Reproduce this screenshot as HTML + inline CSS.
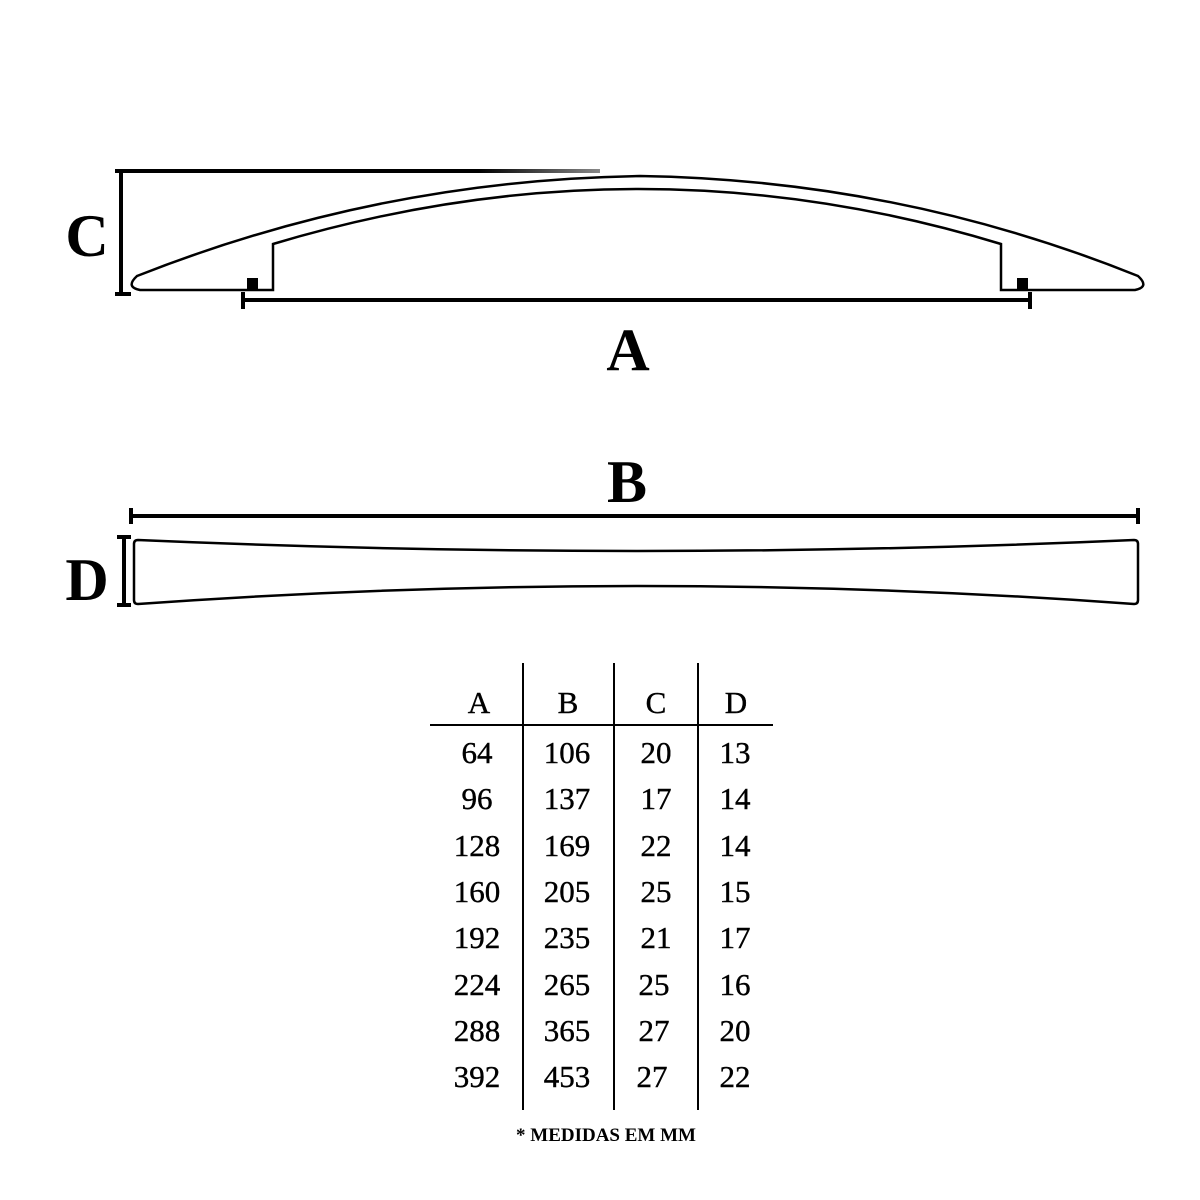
<!DOCTYPE html>
<html><head><style>
html,body{margin:0;padding:0;background:#fff}
svg{display:block}
text{font-family:"Liberation Serif",serif;fill:#000}
</style></head><body>
<svg width="1200" height="1200" viewBox="0 0 1200 1200">
<defs><linearGradient id="g" gradientUnits="userSpaceOnUse" x1="115" y1="0" x2="600" y2="0"><stop offset="0.75" stop-color="#000"/><stop offset="1" stop-color="#888"/></linearGradient></defs>
<g fill="none" stroke="#000">
<!-- C dim -->
<line x1="121" y1="171" x2="121" y2="294" stroke-width="4"/>
<line x1="115" y1="294" x2="131" y2="294" stroke-width="4"/>
<line x1="115" y1="171" x2="600" y2="171" stroke-width="4" stroke="url(#g)"/>
<!-- handle side view -->
<path d="M273,290 L273,244 Q640,134 1001,244 L1001,290 L1135,290 Q1150,287 1138,276 Q900,180 640,176 Q380,180 137,276 Q125,287 140,290 Z" stroke-width="2.5"/>
<rect x="247" y="278" width="11" height="11" fill="#000" stroke="none"/>
<rect x="1017" y="278" width="11" height="11" fill="#000" stroke="none"/>
<!-- A dim -->
<line x1="243" y1="300" x2="1030" y2="300" stroke-width="4"/>
<line x1="243" y1="292" x2="243" y2="309" stroke-width="4"/>
<line x1="1030" y1="292" x2="1030" y2="309" stroke-width="4"/>
<!-- B dim -->
<line x1="131" y1="516" x2="1138" y2="516" stroke-width="4"/>
<line x1="131" y1="508" x2="131" y2="524" stroke-width="4"/>
<line x1="1138" y1="508" x2="1138" y2="524" stroke-width="4"/>
<!-- D dim -->
<line x1="124" y1="537" x2="124" y2="605" stroke-width="4"/>
<line x1="117" y1="537" x2="131" y2="537" stroke-width="4"/>
<line x1="117" y1="605" x2="131" y2="605" stroke-width="4"/>
<!-- bar top view -->
<path d="M138,540 Q640,562 1134,540 Q1138,540 1138,544 L1138,600 Q1138,604 1134,604 Q640,568 138,604 Q134,604 134,600 L134,544 Q134,540 138,540 Z" stroke-width="2.5"/>
<!-- table lines -->
<line x1="523" y1="663" x2="523" y2="1110" stroke-width="2"/>
<line x1="614" y1="663" x2="614" y2="1110" stroke-width="2"/>
<line x1="698" y1="663" x2="698" y2="1110" stroke-width="2"/>
<line x1="430" y1="725" x2="773" y2="725" stroke-width="2"/>
</g>
<g font-weight="bold" font-size="60" text-anchor="middle">
<text x="87" y="256">C</text>
<text x="628" y="370">A</text>
<text x="627" y="502">B</text>
<text x="87" y="600">D</text>
</g>
<g font-size="31" text-anchor="middle" stroke="#000" stroke-width="0.4">
<text x="479" y="713">A</text><text x="568" y="713">B</text><text x="656" y="713">C</text><text x="736" y="713">D</text>
<text x="477" y="763">64</text><text x="567" y="763">106</text><text x="656" y="763">20</text><text x="735" y="763">13</text>
<text x="477" y="809">96</text><text x="567" y="809">137</text><text x="656" y="809">17</text><text x="735" y="809">14</text>
<text x="477" y="856">128</text><text x="567" y="856">169</text><text x="656" y="856">22</text><text x="735" y="856">14</text>
<text x="477" y="902">160</text><text x="567" y="902">205</text><text x="656" y="902">25</text><text x="735" y="902">15</text>
<text x="477" y="948">192</text><text x="567" y="948">235</text><text x="656" y="948">21</text><text x="735" y="948">17</text>
<text x="477" y="995">224</text><text x="567" y="995">265</text><text x="654" y="995">25</text><text x="735" y="995">16</text>
<text x="477" y="1041">288</text><text x="567" y="1041">365</text><text x="654" y="1041">27</text><text x="735" y="1041">20</text>
<text x="477" y="1087">392</text><text x="567" y="1087">453</text><text x="652" y="1087">27</text><text x="735" y="1087">22</text>
</g>
<text x="606" y="1141" font-size="19" font-weight="bold" text-anchor="middle">* MEDIDAS EM MM</text>
</svg>
</body></html>
